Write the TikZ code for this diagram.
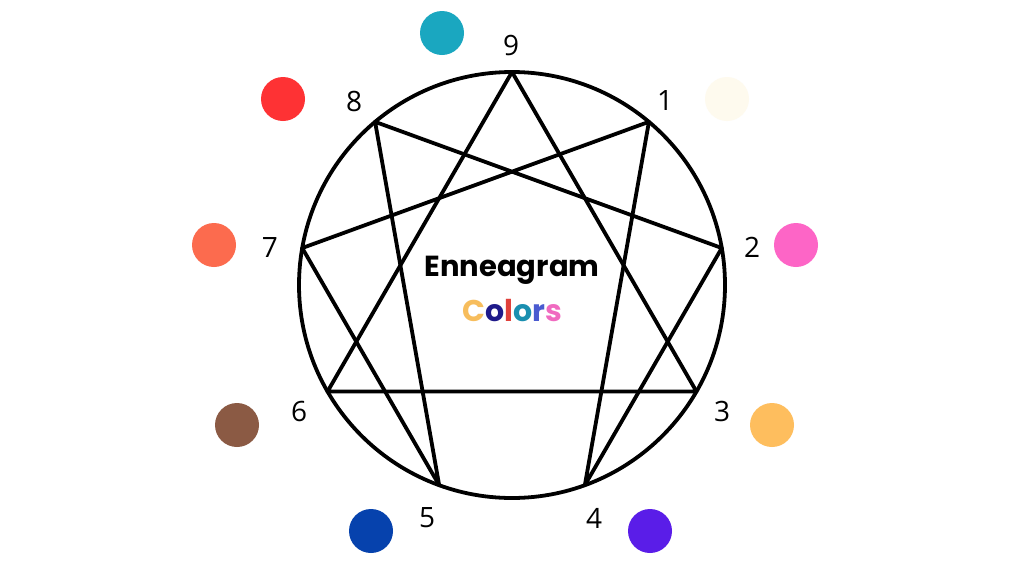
\documentclass[tikz,border=0pt]{standalone}
\usepackage{fontspec}
\usetikzlibrary{calc}
\setmainfont{Open Sans}
\newfontfamily\titlefont{Poppins}
\begin{document}
\begin{tikzpicture}[x=1pt,y=-1pt,
  dot/.style={circle,minimum size=44pt,inner sep=0pt},
  numlabel/.style={font=\fontsize{28}{28}\selectfont,text=black,inner sep=0pt},
  edge/.style={line width=3.8pt,line join=round,line cap=round}]
\definecolor{c9}{HTML}{1AA7C0}
\definecolor{c1}{HTML}{FEFAEE}
\definecolor{c2}{HTML}{FD65C6}
\definecolor{c3}{HTML}{FEBE5E}
\definecolor{c4}{HTML}{5A1DE8}
\definecolor{c5}{HTML}{0642AD}
\definecolor{c6}{HTML}{8B5A44}
\definecolor{c7}{HTML}{FC6B4E}
\definecolor{c8}{HTML}{FE3234}
\definecolor{tC}{HTML}{F7BD5C}
\definecolor{to}{HTML}{1F1A8A}
\definecolor{tl}{HTML}{E0403A}
\definecolor{tt}{HTML}{1A8FB0}
\definecolor{tr}{HTML}{4A5BD0}
\definecolor{ts}{HTML}{F06AC0}
\path[use as bounding box,fill=white] (0,0) rectangle (1024,576);
\coordinate (O) at (512,285);
\draw[edge] (O) circle (213);
\foreach \k in {0,...,8} {
  \coordinate (v\k) at ($(O)+(-90+40*\k:213)$);
}
\draw[edge] (v0) -- (v3) -- (v6) -- cycle;
\draw[edge] (v1) -- (v4) -- (v2) -- (v8) -- (v5) -- (v7) -- cycle;
% labels
\node[numlabel] (n9) at (511,45) {9};
\node[numlabel] (n1) at (665,101) {1};
\node[numlabel] (n2) at (752,247) {2};
\node[numlabel] (n3) at (722,411) {3};
\node[numlabel] (n4) at (594,518) {4};
\node[numlabel] (n5) at (427,518) {5};
\node[numlabel] (n6) at (299,411) {6};
\node[numlabel] (n7) at (270,247) {7};
\node[numlabel] (n8) at (354,101) {8};
% colour dots
\node[dot,fill=c9] (d9) at (442,33) {};
\node[dot,fill=c1] (d1) at (727,99) {};
\node[dot,fill=c2] (d2) at (796,245) {};
\node[dot,fill=c3] (d3) at (772,425) {};
\node[dot,fill=c4] (d4) at (650,531) {};
\node[dot,fill=c5] (d5) at (371,531) {};
\node[dot,fill=c6] (d6) at (237,425) {};
\node[dot,fill=c7] (d7) at (214,245) {};
\node[dot,fill=c8] (d8) at (283,99) {};
% title
\node[font=\titlefont\bfseries\fontsize{29}{29}\selectfont,inner sep=0pt] (t1) at (512,270) {Enneagram};
\node[font=\titlefont\bfseries\fontsize{30}{30}\selectfont,inner sep=0pt] (t2) at (512,311) {\textcolor{tC}{C}\textcolor{to}{o}\textcolor{tl}{l}\textcolor{tt}{o}\textcolor{tr}{r}\textcolor{ts}{s}};
\end{tikzpicture}
\end{document}
